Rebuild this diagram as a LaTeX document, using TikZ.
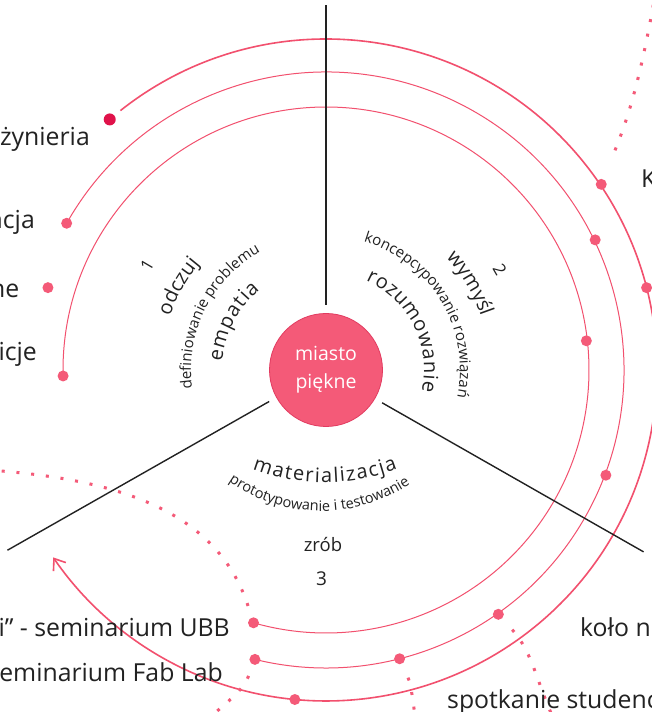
\documentclass[tikz,border=0pt]{standalone}
\usepackage{fontspec}
\setmainfont{Open Sans}
\usetikzlibrary{decorations.text,arrows.meta}
\definecolor{pk}{HTML}{F2506E}
\definecolor{pkdot}{HTML}{F45A78}
\definecolor{crim}{HTML}{E0124A}
\definecolor{ink}{HTML}{222222}
\definecolor{rimc}{HTML}{E23B60}
\newcommand{\myarctext}[5]{%
  \path[decorate,decoration={text along path,text align={#4},text={#5}}]
    (#2:#1) arc[start angle=#2,end angle=#3,radius=#1];}
\begin{document}
\begin{tikzpicture}[x=1pt,y=1pt,
  orbitA/.style={draw=pk, line width=1.6pt},
  orbitB/.style={draw=pk, line width=1pt},
  pdot/.style={circle, fill=pkdot, inner sep=0pt, minimum size=11pt},
  cdot/.style={circle, fill=crim, inner sep=0pt, minimum size=12pt},
  dotline/.style={draw=pkdot, line width=3pt, dash pattern=on 3pt off 11.8pt},
  divider/.style={draw=ink, line width=1.4pt},
  hub/.style={circle, fill=pkdot, draw=rimc, line width=0.8pt, minimum size=113pt, inner sep=0pt, text=white, align=center, font=\fontsize{19.5}{28}\selectfont},
  lbl/.style={inner sep=0pt, text=ink, font=\fontsize{24.8}{28}\selectfont},
  num/.style={inner sep=0pt, text=ink, font=\fontsize{17}{20}\selectfont}]
\useasboundingbox (0,0) rectangle (652,712);
\clip (0,0) rectangle (652,712);
\fill[white] (0,0) rectangle (652,712);
\coordinate (e1) at (656,722);
\coordinate (e2) at (-12,242);
\coordinate (e3) at (207,-8);
\coordinate (e4) at (416,-10);
\coordinate (e5) at (554,-8);
\begin{scope}[shift={(326,342)}]
  % orbits
  \draw[orbitA, -{Straight Barb[length=10pt,width=15pt]}] (128.4:331pt) arc[start angle=128.4,end angle=-145.5,radius=331pt];
  \draw[orbitB] (150.5:298pt) arc[start angle=150.5,end angle=-103.8,radius=298pt];
  \draw[orbitB] (181.3:263pt) arc[start angle=181.3,end angle=-106,radius=263pt];
  % dividers
  \coordinate (va) at (90:65pt);  \coordinate (vb) at (90:365pt);
  \coordinate (la) at (209:65pt); \coordinate (lb) at (209.5:366pt);
  \coordinate (ra) at (-30.3:65pt); \coordinate (rb) at (-29.8:366pt);
  \draw[divider] (va) -- (vb);
  \draw[divider] (la) -- (lb);
  \draw[divider] (ra) -- (rb);
  % dots
  \node[cdot] (c0) at (130.8:331pt) {};
  \node[pdot] (oA) at (34:332pt) {};
  \node[pdot] (oB) at (14.4:331pt) {};
  \node[pdot] (oC) at (-95.4:331pt) {};
  \node[pdot] (mS) at (150.5:298pt) {};
  \node[pdot] (mA) at (25.8:299pt) {};
  \node[pdot] (mB) at (-20.6:299pt) {};
  \node[pdot] (mC) at (-54.8:299pt) {};
  \node[pdot] (mD) at (-75.7:298pt) {};
  \node[pdot] (mE) at (-103.8:298pt) {};
  \node[pdot] (iS) at (181.3:263pt) {};
  \node[pdot] (iA) at (6.4:262pt) {};
  \node[pdot] (iE) at (-106:263pt) {};
  \node[pdot] (solo) at (163.5:290pt) {};
  % hub
  \node[hub] (hub) at (0,0) {miasto\\piękne};
  % sector 1
  \myarctext{104pt}{175.5}{129.5}{fit to path}{|\fontsize{20}{24}\selectfont\color{ink}|empatia}
  \myarctext{135pt}{213.5}{93.5}{center}{|\fontsize{15}{18}\selectfont\color{ink}|definiowanie problemu}
  \myarctext{165pt}{180.5}{120.5}{center}{|\fontsize{20}{24}\selectfont\color{ink}|odczuj}
  \node[num, rotate=59.6] (n1) at (149.6:207.5pt) {1};
  % sector 2
  \myarctext{98pt}{66}{-12.5}{fit to path}{|\fontsize{20}{24}\selectfont\color{ink}|rozumowanie}
  \myarctext{134pt}{91}{-29}{center}{|\fontsize{15}{18}\selectfont\color{ink}|koncepcypowanie rozwiązań}
  \myarctext{164pt}{61}{1}{center}{|\fontsize{20}{24}\selectfont\color{ink}|wymyśl}
  \node[num, rotate=-60.1] (n2) at (29.9:200.7pt) {2};
\end{scope}
% sector 3
\begin{scope}[shift={(325,432)}]
  \myarctext{202.5pt}{249}{291}{fit to path}{|\fontsize{20}{24}\selectfont\color{ink}|materializacja}
\end{scope}
\begin{scope}[shift={(321,362)}]
  \myarctext{161pt}{199.35}{339.35}{center}{|\fontsize{14.5}{17}\selectfont\color{ink}|prototypowanie i testowanie}
\end{scope}
\node[inner sep=0pt, text=ink, font=\fontsize{18.5}{22}\selectfont, anchor=base] (zr) at (323,160) {zrób};
\node[num, font=\fontsize{19}{22}\selectfont, anchor=base] (n3) at (321.5,126) {3};
% dotted connectors
\draw[dotline, shorten <=31pt] (oA) to[out=68,in=-100] (e1);
\draw[dotline, shorten <=12pt] (iE) to[out=108,in=-4] (e2);
\draw[dotline, shorten <=12pt] (mE) to[out=-111,in=42] (e3);
\draw[dotline, shorten <=15pt] (mD) to[out=-66,in=99] (e4);
\draw[dotline, shorten <=15pt] (mC) to[out=-48,in=114] (e5);
% labels
\node[lbl, anchor=base east] (L1) at (90,566) {żynieria};
\node[lbl, anchor=base east] (L2) at (35,483) {ncja};
\node[lbl, anchor=base east] (L3) at (19.5,414) {ne};
\node[lbl, anchor=base east] (L4) at (37,351) {icje};
\node[lbl, anchor=base west] (L5) at (641,524) {K};
\node[lbl, anchor=base west] (L6) at (580,75) {koło n};
\node[lbl, anchor=base west] (L7) at (447,3) {spotkanie studenc};
\node[lbl, anchor=base east] (L8) at (230,75) {i” - seminarium UBB};
\node[lbl, anchor=base east] (L9) at (223,30) {seminarium Fab Lab};
\end{tikzpicture}
\end{document}
